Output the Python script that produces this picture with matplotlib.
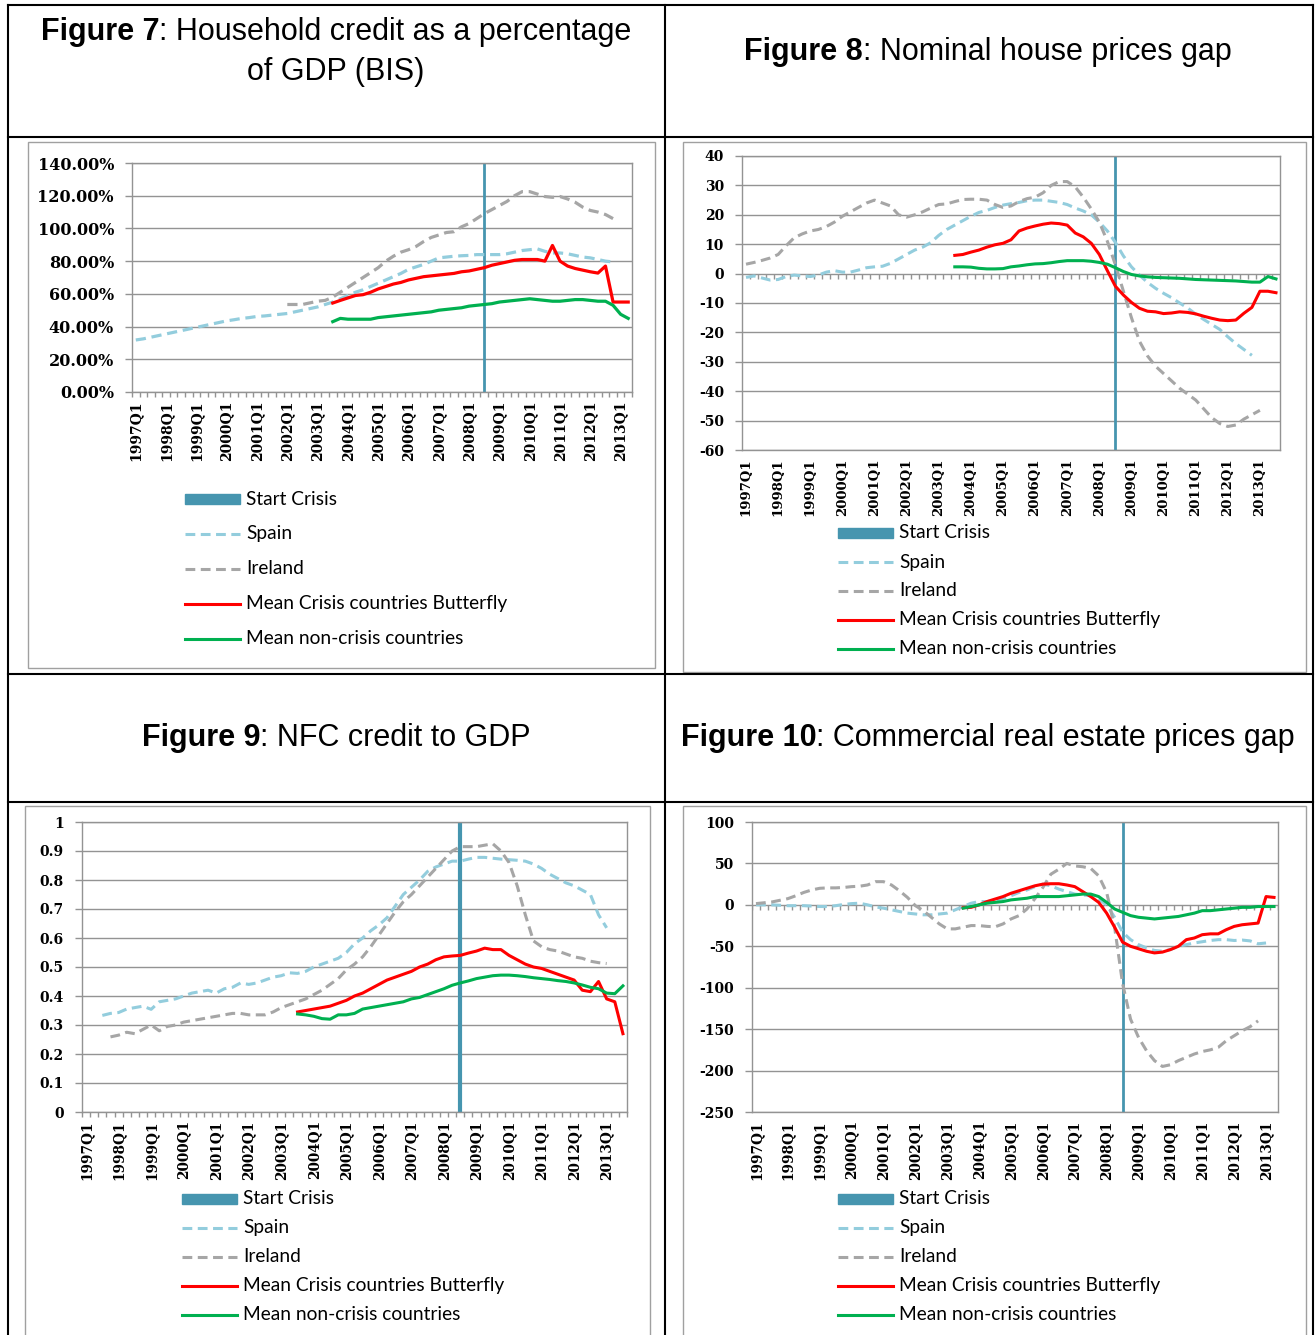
import numpy as np
import matplotlib
matplotlib.use("Agg")
import matplotlib.pyplot as plt
from matplotlib.lines import Line2D
from matplotlib.patches import Rectangle

W, H = 1316, 1335

# trimestres: indice 0 = 1997Q1; rotulos so nos Q1
anos = list(range(1997, 2014))
rotulos = ["Start Crisis", "Spain", "Ireland",
           "Mean Crisis countries Butterfly", "Mean non-crisis countries"]

# ---- Figure 7 (66 trimestres) ----
spain7 = [31.8, 32.5, 33.5, 34.5, 35.5, 36.5, 37.5, 38.5, 39.5, 40.5,
          41.5, 42.5, 43.5, 44.2, 45.0, 45.5, 46.2, 46.5, 47.0, 47.5,
          48.0, 49.0, 50.0, 51.0, 52.0, 53.5, 55.0, 57.0, 59.0, 61.0,
          62.5, 64.5, 66.5, 68.5, 70.5, 72.5, 75.0, 76.5, 78.0, 80.0,
          82.0, 82.5, 83.0, 83.3, 83.5, 84.0, 84.0, 84.0, 84.0, 84.5,
          85.5, 86.5, 87.0, 87.5, 86.0, 85.0, 85.0, 84.5, 83.5, 82.5,
          82.0, 81.0, 80.0, 79.5]
ireland7 = [53.5, 53.5, 53.5, 54.5, 55.5, 56, 58, 61, 64, 67,
            70, 73, 76, 80, 83, 85.5, 87, 89, 92, 94.5,
            96, 97.5, 98, 101, 103, 106, 109, 111.5, 114, 116.5,
            120, 122.5, 122.5, 121, 119.5, 119, 119.5, 118, 116, 113,
            111, 110, 108.5, 106]
red7 = [54.4, 56, 57.5, 59, 59.5, 61, 63, 64.5, 66, 67,
        68.5, 69.5, 70.5, 71, 71.5, 72, 72.5, 73.5, 74, 75,
        76, 77.5, 78.5, 79.5, 80.5, 81, 81, 81, 80, 89.6,
        80, 77, 75.5, 74.5, 73.5, 72.7, 77, 55, 55, 55]
green7 = [43, 45, 44.5, 44.5, 44.5, 44.5, 45.5, 46, 46.5, 47,
          47.5, 48, 48.5, 49, 50, 50.5, 51, 51.5, 52.5, 53,
          53.5, 54, 55, 55.5, 56, 56.5, 57, 56.5, 56, 55.5,
          55.5, 56, 56.5, 56.5, 56, 55.5, 55.5, 53, 47.5, 45]

# ---- Figure 8 (67 trimestres) ----
spain8 = [-1.3, -0.8, -1.5, -2.2, -2, -1, -0.5, -0.8, -1, -0.5,
          0.5, 1, 0.5, 0.5, 1.2, 2, 2.3, 2.5, 3.5, 5,
          6.5, 8, 9, 10.5, 13, 15, 16.5, 18, 19.5, 20.8,
          21.5, 22.5, 23.3, 23.8, 24.2, 24.8, 25, 25, 24.6, 24.2,
          23.5, 22.3, 21.3, 20, 17.5, 14.5, 10.6, 6, 2.3, -0.5,
          -3, -5, -6.7, -8.2, -10, -11.7, -13.8, -15.6, -17.3, -19,
          -21.5, -23.8, -25.8, -27.8]
ireland8 = [3.2, 3.8, 4.5, 5.3, 6.5, 9.5, 12.2, 13.5, 14.5, 15,
            16, 17.5, 19.5, 21, 22.5, 24, 25, 24, 23, 20,
            19.2, 20, 21, 22.3, 23.5, 23.7, 24.5, 25.2, 25.3, 25.3,
            25, 23.5, 22.5, 23, 24.5, 25.5, 26, 27.5, 30, 31.3,
            31.3, 29.5, 26, 22, 17.5, 11, 3, -6, -15, -23,
            -28, -31.5, -34, -36.5, -39, -41, -43, -46, -49, -51,
            -52, -51.5, -49.5, -48, -46.5]
red8 = [6.2, 6.5, 7.3, 8, 9, 9.8, 10.3, 11.5, 14.5, 15.5,
        16.2, 16.8, 17.2, 17, 16.5, 13.8, 12.5, 10.3, 6.5, 1,
        -4.3, -7.3, -9.8, -11.8, -12.8, -13, -13.6, -13.4, -13, -13.2,
        -13.7, -14.5, -15.2, -15.8, -16, -15.8, -13.5, -11.5, -6, -6,
        -6.5]
green8 = [2.3, 2.3, 2.2, 1.8, 1.6, 1.6, 1.7, 2.3, 2.6, 3,
          3.3, 3.4, 3.7, 4.1, 4.4, 4.4, 4.4, 4.2, 3.8, 3.2,
          2, 0.7, -0.3, -0.8, -1.1, -1.3, -1.4, -1.5, -1.6, -1.8,
          -2, -2.1, -2.2, -2.3, -2.4, -2.5, -2.7, -2.9, -2.9, -1,
          -1.8]

# ---- Figure 9 (67 trimestres) ----
spain9 = [0.333, 0.34, 0.343, 0.355, 0.36, 0.365, 0.354, 0.38, 0.385, 0.39,
          0.40, 0.41, 0.415, 0.42, 0.41, 0.425, 0.43, 0.445, 0.44, 0.445,
          0.455, 0.465, 0.47, 0.48, 0.478, 0.485, 0.50, 0.51, 0.52, 0.53,
          0.55, 0.58, 0.60, 0.625, 0.645, 0.67, 0.71, 0.75, 0.775, 0.80,
          0.83, 0.845, 0.855, 0.865, 0.865, 0.872, 0.878, 0.878, 0.875, 0.872,
          0.87, 0.868, 0.865, 0.855, 0.84, 0.82, 0.805, 0.79, 0.78, 0.765,
          0.75, 0.68, 0.635]
ireland9 = [0.259, 0.265, 0.275, 0.27, 0.285, 0.30, 0.28, 0.295, 0.30, 0.31,
            0.315, 0.32, 0.325, 0.33, 0.335, 0.34, 0.34, 0.335, 0.335, 0.335,
            0.345, 0.36, 0.37, 0.38, 0.39, 0.405, 0.42, 0.44, 0.46, 0.49,
            0.51, 0.535, 0.57, 0.61, 0.65, 0.69, 0.725, 0.75, 0.78, 0.81,
            0.84, 0.87, 0.90, 0.915, 0.915, 0.915, 0.92, 0.925, 0.90, 0.86,
            0.78, 0.68, 0.59, 0.57, 0.56, 0.555, 0.545, 0.535, 0.53, 0.52,
            0.515, 0.512]
red9 = [0.345, 0.35, 0.355, 0.36, 0.365, 0.375, 0.385, 0.40, 0.41, 0.425,
        0.44, 0.455, 0.465, 0.475, 0.485, 0.50, 0.51, 0.525, 0.535, 0.538,
        0.54, 0.548, 0.555, 0.565, 0.56, 0.56, 0.54, 0.525, 0.51, 0.50,
        0.495, 0.485, 0.475, 0.465, 0.455, 0.42, 0.415, 0.45, 0.39, 0.38,
        0.27]
green9 = [0.338, 0.335, 0.33, 0.322, 0.32, 0.335, 0.335, 0.34, 0.355, 0.36,
          0.365, 0.37, 0.375, 0.38, 0.39, 0.395, 0.405, 0.415, 0.425, 0.437,
          0.445, 0.452, 0.46, 0.465, 0.47, 0.472, 0.472, 0.47, 0.467, 0.463,
          0.46, 0.457, 0.453, 0.45, 0.445, 0.438, 0.43, 0.425, 0.41, 0.408,
          0.435]

# ---- Figure 10 (66 trimestres) ----
spain10 = [0, 0, 0, -0.5, -1, -1, -1, -1.5, -2, -2,
           -1, 0.5, 1.5, 2, 0, -2.5, -4, -6, -8, -10,
           -11, -12, -12, -11, -10, -6, -2, 2, 4, 4,
           5, 8, 11, 15, 18, 22, 25, 23, 19, 16,
           13, 12, 11, 7, 0, -15, -33, -42, -48, -52,
           -55, -56, -54, -50, -48, -46, -44.5, -43, -42, -42,
           -43, -42.5, -43.5, -47, -46]
ireland10 = [1.5, 2.5, 3.5, 5.5, 7.5, 11, 15, 18, 20, 20.5,
             20.5, 21, 22, 22.5, 24, 28, 28, 24, 17, 9,
             -1, -7, -15, -23, -29, -29, -27, -25, -25, -26,
             -26.5, -23, -17, -13, -5, 7.5, 21, 37, 43, 50,
             47, 46, 44, 35, 15, -27, -95, -138, -160, -176,
             -188, -195, -193, -188, -184, -180, -177, -175, -172, -164,
             -158, -152, -147, -140]
red10 = [-3.4, -3, 0, 4, 7, 10, 14, 17, 20, 23,
         25, 25.5, 25.5, 24, 22, 16, 10, 3, -10, -27,
         -45, -50, -53, -56, -58, -57, -54, -50, -42, -40,
         -36, -35, -35, -30, -26, -24, -23, -22, 10, 9]
green10 = [-4, -2, 0, 2, 3, 4, 6, 7, 8, 10,
           10, 10, 10, 11, 12, 13, 13, 10, 3, -5,
           -9, -13, -15, -16, -17, -16, -15, -14, -12, -10,
           -7, -7, -6, -5, -4, -3, -3, -2, -2, -2]

AZUL, CINZA, VERMELHO, VERDE = "#93CDDD", "#A6A6A6", "#FF0000", "#00B050"
CRISE, GRADE = "#4695AF", "#939393"
TRACO = (0, (3.2, 1.8))


def fx(px):
    return px / W


def fy(py):
    return 1 - py / H


def caixa(l, t, r, b):
    return [fx(l), fy(b), (r - l) / W, (b - t) / H]


def serie(ini, vals, n):
    y = np.full(n, np.nan)
    y[ini:ini + len(vals)] = vals
    return y


def painel(area, n, dados, ylim, passo, fmt, fs_y, fs_x, lw=2.2, lw_crise=2, crise=46, eixo_zero=False):
    ax = fig.add_axes(caixa(*area))
    ax.set_xlim(-0.5, n - 0.5)
    ax.set_ylim(*ylim)
    ax.set_yticks(np.arange(ylim[0], ylim[1] + passo / 2, passo))
    ax.yaxis.set_major_formatter(plt.FuncFormatter(fmt))
    ax.grid(axis="y", color=GRADE, lw=1)
    ax.set_axisbelow(True)
    for s in ax.spines.values():
        s.set_color(GRADE)
        s.set_linewidth(1)
    ax.axvline(crise, color=CRISE, lw=lw_crise, zorder=2)
    x = np.arange(n)
    for ini, vals, cor, ls in dados:
        ax.plot(x, serie(ini, vals, n), color=cor, lw=lw, ls=ls, zorder=3)
    ax.set_xticks(range(0, 4 * len(anos), 4))
    ax.set_xticklabels([f"{a}Q1" for a in anos], rotation=90)
    ax.set_xticks(np.arange(-0.5, n), minor=True)
    ax.tick_params(axis="x", which="major", length=0, pad=6, labelsize=fs_x)
    if eixo_zero:
        # eixo de categorias cruza em 0: marcas penduradas na linha do zero
        ax.tick_params(axis="x", which="minor", length=0)
        d = (ylim[1] - ylim[0]) * 5 / (area[3] - area[1])
        ax.vlines(np.arange(-0.5, n), -d, 0, color=GRADE, lw=1, zorder=2)
    else:
        ax.tick_params(axis="x", which="minor", length=3.6, width=1, color=GRADE)
    ax.tick_params(axis="y", length=5, width=1, color=GRADE, pad=8, labelsize=fs_y)
    for t in ax.get_xticklabels() + ax.get_yticklabels():
        t.set_fontfamily("DejaVu Serif")
        t.set_fontweight("bold")
    return ax


def legenda(x0, y0, dy, fs=13.8):
    estilos = [(CRISE, None), (AZUL, TRACO), (CINZA, TRACO), (VERMELHO, "-"), (VERDE, "-")]
    for k, (txt, (cor, ls)) in enumerate(zip(rotulos, estilos)):
        y = y0 + k * dy
        if ls is None:
            fig.add_artist(Rectangle((fx(x0), fy(y + 5)), 55 / W, 10 / H, color=cor,
                                     transform=fig.transFigure))
        else:
            fig.add_artist(Line2D([fx(x0), fx(x0 + 55)], [fy(y), fy(y)], color=cor, lw=2.2,
                                  ls=ls, transform=fig.transFigure))
        fig.text(fx(x0 + 61), fy(y), txt, va="center", ha="left", fontsize=fs, family="Lato")


def titulo(cx, base, negrito, resto, fs=22):
    r = fig.canvas.get_renderer()
    t1 = fig.text(0, fy(base), negrito, fontsize=fs, weight="bold", family="Liberation Sans", va="baseline")
    t2 = fig.text(0, fy(base), resto, fontsize=fs, family="Liberation Sans", va="baseline")
    w1 = t1.get_window_extent(r).width
    w2 = t2.get_window_extent(r).width
    x = cx - (w1 + w2) / 2
    t1.set_x(fx(x))
    t2.set_x(fx(x + w1))


def linha(x0, y0, x1, y1, cor="black", lw=1.5):
    fig.add_artist(Line2D([fx(x0), fx(x1)], [fy(y0), fy(y1)], color=cor, lw=lw,
                          transform=fig.transFigure))


fig = plt.figure(figsize=(W / 100, H / 100), dpi=100)
fig.patch.set_facecolor("white")

# ============================ tabela ============================
for xv in (8, 665, 1313):
    linha(xv, 5, xv, H + 5)
for yh in (5, 137, 674, 802):
    linha(8, yh, 1313, yh)
for l, t, r, b in [(28, 142, 655, 668), (683, 142, 1306, 672),
                   (25, 806, 650, H + 10), (683, 806, 1306, H + 10)]:
    fig.add_artist(Rectangle((fx(l), fy(b)), (r - l) / W, (b - t) / H, fill=False,
                             edgecolor="#A0A0A0", lw=1, transform=fig.transFigure))

titulo(336, 40, "Figure 7", ": Household credit as a percentage")
titulo(336, 80, "", "of GDP (BIS)")
titulo(988, 60, "Figure 8", ": Nominal house prices gap")
titulo(336, 746, "Figure 9", ": NFC credit to GDP")
titulo(988, 746, "Figure 10", ": Commercial real estate prices gap")

# ============================ Figure 7 ============================
painel((132, 163, 632, 392), 66,
       [(0, spain7, AZUL, TRACO), (20, ireland7, CINZA, TRACO),
        (26, red7, VERMELHO, "-"), (26, green7, VERDE, "-")],
       (0, 140), 20, lambda v, p: f"{v:.2f}%", fs_y=11.5, fs_x=10, lw=2.3)
legenda(185, 499, 35)

# ============================ Figure 8 ============================
painel((742, 156, 1280, 450), 67,
       [(0, spain8, AZUL, TRACO), (0, ireland8, CINZA, TRACO),
        (26, red8, VERMELHO, "-"), (26, green8, VERDE, "-")],
       (-60, 40), 10, lambda v, p: f"{v:.0f}", fs_y=10, fs_x=9.5, eixo_zero=True)
legenda(838, 533, 29)

# ============================ Figure 9 ============================
painel((82, 822, 627, 1112), 67,
       [(2, spain9, AZUL, TRACO), (3, ireland9, CINZA, TRACO),
        (26, red9, VERMELHO, "-"), (26, green9, VERDE, "-")],
       (0, 1), 0.1, lambda v, p: f"{v:g}", fs_y=10, fs_x=9.8, lw_crise=3)
legenda(182, 1199, 29)

# ============================ Figure 10 ============================
painel((752, 822, 1278, 1112), 66,
       [(0, spain10, AZUL, TRACO), (0, ireland10, CINZA, TRACO),
        (26, red10, VERMELHO, "-"), (26, green10, VERDE, "-")],
       (-250, 100), 50, lambda v, p: f"{v:.0f}", fs_y=10, fs_x=9.8, eixo_zero=True)
legenda(838, 1199, 29)

fig.savefig("out.png", dpi=100)
